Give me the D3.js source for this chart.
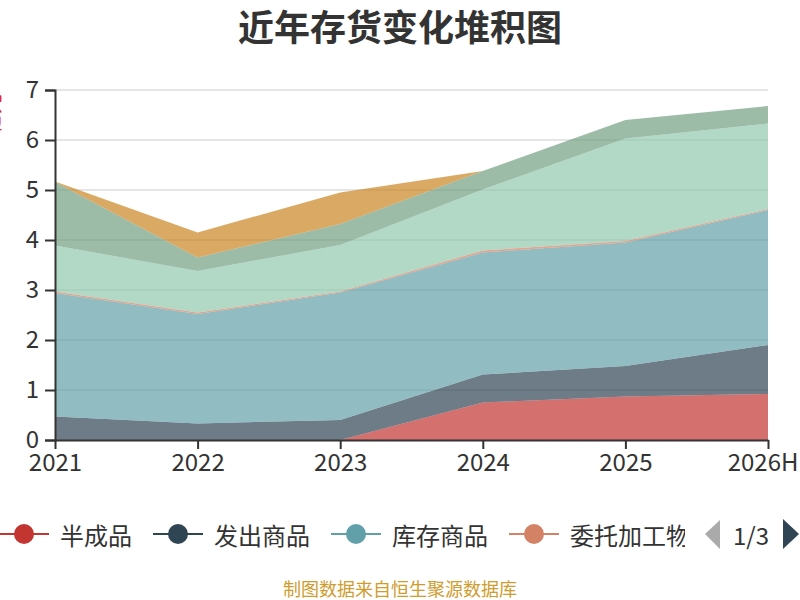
<!DOCTYPE html>
<html>
<head>
<meta charset="utf-8">
<script src="https://cdn.jsdelivr.net/npm/d3@7/dist/d3.min.js"></script>
<style>
  html, body { margin: 0; padding: 0; background: #fff; }
  svg { display: block; }
  text { font-family: "Noto Sans CJK SC", "Noto Sans", sans-serif; }
</style>
</head>
<body>
<svg id="chart" width="800" height="600"></svg>
<script>
// ---------- data ----------
const titleText = "近年存货变化堆积图";
const yAxisName = "亿元";
const footerText = "制图数据来自恒生聚源数据库";
const legendPageLabel = "1/3";
const categories = ["2021", "2022", "2023", "2024", "2025", "2026H"];
const seriesNames = ["半成品", "发出商品", "库存商品", "委托加工物资", "原材料", "在产品", "周转材料"];
const banChengPin   = [0, 0, 0, 0.75, 0.87, 0.92];
const faChuShangPin = [0.47, 0.33, 0.40, 0.56, 0.61, 0.98];
const kuCunShangPin = [2.47, 2.19, 2.55, 2.44, 2.47, 2.70];
const weiTuoJiaGong = [0.03, 0.03, 0.02, 0.04, 0.03, 0.02];
const yuanCaiLiao   = [0.92, 0.83, 0.93, 1.22, 2.05, 1.71];
const zaiChanPin    = [1.27, 0.27, 0.42, 0.37, 0.37, 0.35];
const zhouZhuanCaiLiao = [0.01, 0.50, 0.63, 0, 0, 0];
const yTicks = [0, 1, 2, 3, 4, 5, 6, 7];
const palette = ["#c23531", "#2f4554", "#61a0a8", "#d48265", "#91c7ae", "#749f83", "#ca8622"];

const seriesValues = [banChengPin, faChuShangPin, kuCunShangPin, weiTuoJiaGong, yuanCaiLiao, zaiChanPin, zhouZhuanCaiLiao];
const table = categories.map((c, i) => {
  const row = { cat: c };
  seriesNames.forEach((n, k) => { row[n] = seriesValues[k][i]; });
  return row;
});

// ---------- layout ----------
const svg = d3.select("#chart");
const plotLeft = 55, plotRight = 768, plotTop = 90, plotBottom = 440;

const x = d3.scalePoint().domain(categories).range([plotLeft, plotRight]);
const y = d3.scaleLinear().domain([0, 7]).range([plotBottom, plotTop]);
const color = d3.scaleOrdinal().domain(seriesNames).range(palette);

// title
svg.append("text")
  .attr("x", 400).attr("y", 25)
  .attr("text-anchor", "middle")
  .attr("dominant-baseline", "central")
  .attr("font-size", 36).attr("font-weight", "bold")
  .attr("fill", "#333")
  .text(titleText);

// y axis name (mostly outside the view)
svg.append("text")
  .attr("transform", "translate(0,114) rotate(-90)")
  .attr("text-anchor", "middle")
  .attr("font-size", 20)
  .attr("fill", "#e02020")
  .text(yAxisName);

// grid
svg.append("g")
  .selectAll("line")
  .data(yTicks.filter(t => t > 0))
  .join("line")
  .attr("x1", plotLeft).attr("x2", plotRight)
  .attr("y1", d => y(d)).attr("y2", d => y(d))
  .attr("stroke", "#ccc").attr("stroke-width", 1.2);

// stacked areas
const stack = d3.stack().keys(seriesNames);
const stacked = stack(table);
const area = d3.area()
  .x(d => x(d.data.cat))
  .y0(d => y(d[0]))
  .y1(d => y(d[1]));

svg.append("g")
  .selectAll("path")
  .data(stacked)
  .join("path")
  .attr("d", area)
  .attr("fill", d => color(d.key))
  .attr("fill-opacity", 0.7);

// axes
const yAxis = d3.axisLeft(y).tickValues(yTicks).tickSize(10).tickPadding(6).tickFormat(d3.format("d"));
const gy = svg.append("g").attr("transform", `translate(${plotLeft},0)`).call(yAxis);
gy.select(".domain").attr("stroke", "#333").attr("stroke-width", 2);
gy.selectAll(".tick line").attr("stroke", "#333").attr("stroke-width", 2);
gy.selectAll(".tick text").attr("font-size", 24).attr("fill", "#333")
  .attr("font-family", "'Noto Sans CJK SC', 'Noto Sans', sans-serif");

const xAxis = d3.axisBottom(x).tickSize(9).tickSizeOuter(0).tickPadding(5);
const gx = svg.append("g").attr("transform", `translate(0,${plotBottom})`).call(xAxis);
gx.select(".domain").attr("stroke", "#333").attr("stroke-width", 2);
gx.selectAll(".tick line").attr("stroke", "#333").attr("stroke-width", 2);
gx.selectAll(".tick text").attr("font-size", 24).attr("fill", "#333")
  .attr("font-family", "'Noto Sans CJK SC', 'Noto Sans', sans-serif");
// keep the last label inside the view
gx.selectAll(".tick text").filter(d => d === categories[categories.length - 1])
  .attr("text-anchor", "end").attr("x", 798 - plotRight);

// legend (first page: 4 items)
const legendY = 534;
svg.append("clipPath").attr("id", "legendClip")
  .append("rect").attr("x", -5).attr("y", 505).attr("width", 690).attr("height", 60);
const lg = svg.append("g").attr("clip-path", "url(#legendClip)");
let lx = -1;
seriesNames.slice(0, 4).forEach(name => {
  const c = color(name);
  const g = lg.append("g");
  g.append("line").attr("x1", lx).attr("x2", lx + 50)
    .attr("y1", legendY).attr("y2", legendY)
    .attr("stroke", c).attr("stroke-width", 2);
  g.append("circle").attr("cx", lx + 25).attr("cy", legendY).attr("r", 10).attr("fill", c);
  const t = g.append("text").attr("x", lx + 61).attr("y", legendY)
    .attr("dominant-baseline", "central")
    .attr("font-size", 24).attr("fill", "#333").text(name);
  const w = t.node().getComputedTextLength();
  lx = lx + 61 + w + 21;
});

// legend pager
svg.append("path").attr("d", d3.line()([[705, 534], [720, 520], [720, 549]]) + "Z").attr("fill", "#aaa");
svg.append("text").attr("x", 751).attr("y", legendY)
  .attr("text-anchor", "middle").attr("dominant-baseline", "central")
  .attr("font-size", 24).attr("fill", "#333").text(legendPageLabel);
svg.append("path").attr("d", d3.line()([[783, 519], [783, 549], [799, 534]]) + "Z").attr("fill", "#2f4554");

// footer
svg.append("text").attr("x", 400).attr("y", 588)
  .attr("text-anchor", "middle").attr("dominant-baseline", "central")
  .attr("font-size", 18).attr("fill", "#cf9c2e").text(footerText);
</script>
</body>
</html>
